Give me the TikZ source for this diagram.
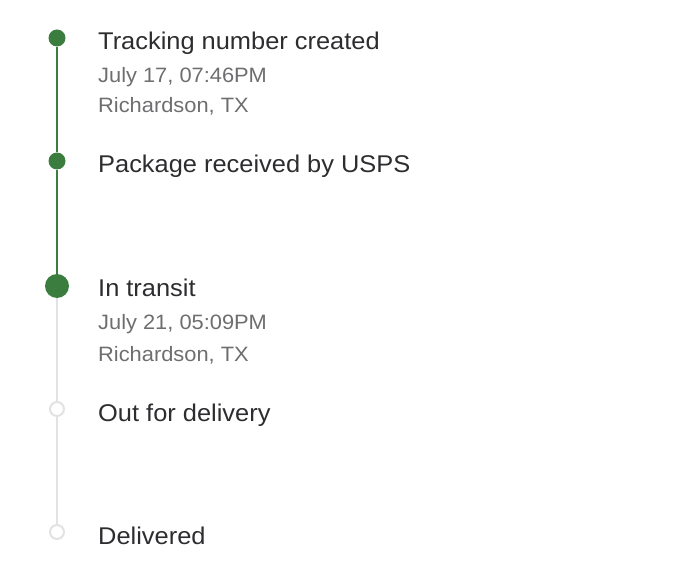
\documentclass[tikz,border=0pt]{standalone}
\usepackage{fontspec}
\setmainfont[FakeStretch=1.05]{Liberation Sans}
\definecolor{dotgreen}{RGB}{58,125,62}
\definecolor{linegray}{RGB}{226,226,228}
\definecolor{titletext}{RGB}{45,45,48}
\definecolor{subtext}{RGB}{110,110,112}
\begin{document}
\begin{tikzpicture}[x=1pt,y=-1pt,
  done/.style={circle,fill=dotgreen,inner sep=0pt,minimum size=17pt},
  current/.style={circle,fill=dotgreen,inner sep=0pt,minimum size=24pt},
  todo/.style={circle,draw=linegray,line width=2pt,fill=white,inner sep=0pt,minimum size=14pt},
  title/.style={anchor=base west,inner sep=0pt,text=titletext,font=\fontsize{24.2}{28}\selectfont},
  sub/.style={anchor=base west,inner sep=0pt,text=subtext,font=\fontsize{20.8}{24}\selectfont},
  greenline/.style={draw=dotgreen,line width=2pt},
  grayline/.style={draw=linegray,line width=2pt}]
\useasboundingbox (0,0) rectangle (680,577);
\node[done] (d1) at (57,38) {};
\node[done] (d2) at (57,161) {};
\node[current] (d3) at (57,286) {};
\node[todo] (d4) at (57,409) {};
\node[todo] (d5) at (57,532) {};
\draw[greenline] (d1) -- (d2);
\draw[greenline] (d2) -- (d3);
\draw[grayline] (d3) -- (d4);
\draw[grayline] (d4) -- (d5);
\node[title] (t1) at (98,50) {Tracking number created};
\node[sub] (s1a) at (98,83) {July 17, 07:46PM};
\node[sub] (s1b) at (98,113) {Richardson, TX};
\node[title] (t2) at (98,173) {Package received by USPS};
\node[title] (t3) at (98,297) {In transit};
\node[sub] (s3a) at (98,330) {July 21, 05:09PM};
\node[sub] (s3b) at (98,361) {Richardson, TX};
\node[title] (t4) at (98,421) {Out for delivery};
\node[title] (t5) at (98,544) {Delivered};
\end{tikzpicture}
\end{document}
